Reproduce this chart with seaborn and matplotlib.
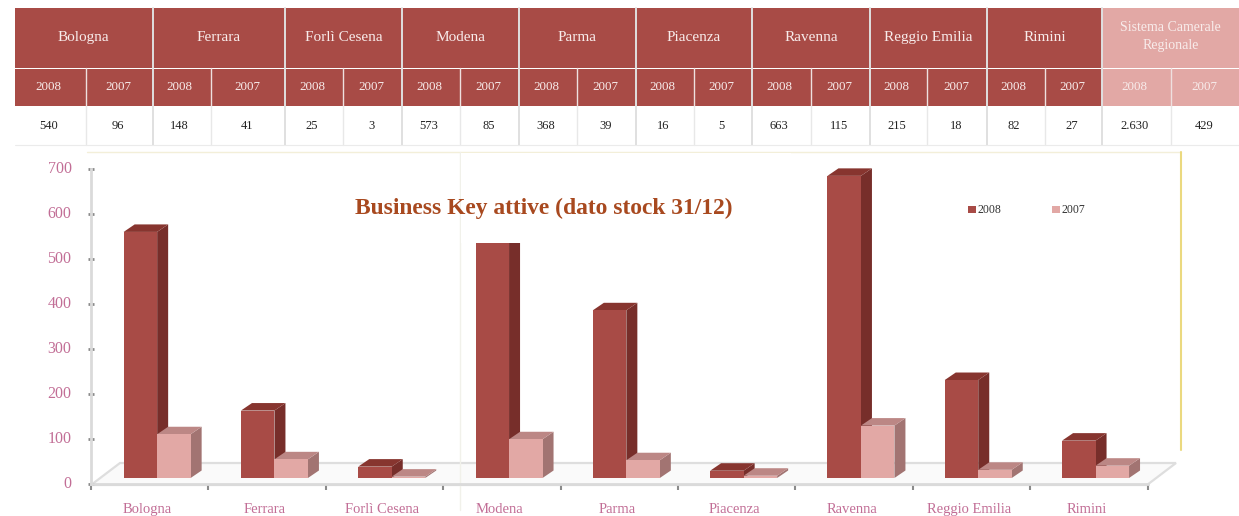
import matplotlib
matplotlib.use("Agg")
import matplotlib.pyplot as plt
from matplotlib.patches import Rectangle, Polygon
from matplotlib.transforms import ScaledTranslation
import pandas as pd
import seaborn as sns

provinces = ["Bologna", "Ferrara", "Forlì Cesena", "Modena", "Parma", "Piacenza",
             "Ravenna", "Reggio Emilia", "Rimini"]
chart_labels = ["Bologna", "Ferrara", "Forlì Cesena", "Modena", "Parma", "Piacenza",
                "Ravenna", "Reggio Emilia", "Rimini"]
values_2008 = [540, 148, 25, 573, 368, 16, 663, 215, 82]
values_2007 = [96, 41, 3, 85, 39, 5, 115, 18, 27]
total_label = "Sistema Camerale\nRegionale"
total_values = ["2.630", "429"]
years = ["2008", "2007"]
y_ticks = [0, 100, 200, 300, 400, 500, 600, 700]
title = "Business Key attive (dato stock 31/12)"

W, H = 1239, 516
DARK, LIGHT = "#A84B46", "#E2A8A5"
DARK_TOP, DARK_SIDE = "#87352F", "#772E2A"
LIGHT_TOP, LIGHT_SIDE = "#BC8785", "#A27472"
PINK = "#C26E96"
SERIF = "Liberation Serif"

sns.set_theme(style="white")
plt.rcParams["font.family"] = [SERIF, "DejaVu Serif"]

df = pd.DataFrame({
    "provincia": provinces * 2,
    "anno": ["2008"] * 9 + ["2007"] * 9,
    "valore": values_2008 + values_2007,
})

fig = plt.figure(figsize=(W / 100, H / 100), dpi=100, facecolor="white")


def px_axes(left, top, right, bottom, z):
    return fig.add_axes([left / W, 1 - bottom / H, (right - left) / W, (bottom - top) / H], zorder=z)


def nudge(label, px_x, px_y):
    label.set_transform(label.get_transform() + ScaledTranslation(px_x / 100, px_y / 100, fig.dpi_scale_trans))


# pixel layer: floor and frame lines
under = px_axes(0, 0, W, H, 0)
under.set_xlim(0, W); under.set_ylim(H, 0); under.axis("off")
under.add_patch(Polygon([(91, 485), (120, 463), (1176, 463), (1147, 485)], fc="#FAFAFA", ec="#DEDEDE", lw=1.6))
under.plot([87, 1181], [152, 152], color="#F3EFD9", lw=1)
under.plot([1181, 1181], [152, 450], color="#EBD97F", lw=1.5)
under.plot([460, 460], [152, 510], color="#F1F1EA", lw=1)

# value axis frame, with category bands
frame = px_axes(91, 169, 1147.5, 484, 1)
frame.patch.set_alpha(0)
frame.set_xlim(0, 9); frame.set_ylim(0, 700)
frame.set_yticks(y_ticks)
frame.set_xticks(range(10)); frame.set_xticklabels([])
frame.set_xticks([i + 0.5 for i in range(9)], chart_labels, minor=True)
frame.tick_params(axis="x", which="major", length=4, width=1.5, color="#8A8A8A", bottom=True, direction="out")
frame.tick_params(axis="x", which="minor", length=0, pad=14, labelsize=10.5, labelcolor=PINK)
frame.tick_params(axis="y", length=4, width=2, color="#8A8A8A", left=True, direction="inout", pad=12,
                  labelsize=11.5, labelcolor=PINK)
for lab in frame.get_yticklabels():
    lab.set_horizontalalignment("right")
    nudge(lab, 0, 2)
for lab in frame.get_xticklabels(minor=True):
    nudge(lab, -2.5, 0)
sns.despine(ax=frame, top=True, right=True)
for s in ("left", "bottom"):
    frame.spines[s].set_color("#DADADA")
    frame.spines[s].set_linewidth(2)

# bars
ax = px_axes(98.5, 159, 1154.2, 478, 2)
ax.patch.set_alpha(0)
sns.barplot(data=df, x="provincia", y="valore", hue="anno", hue_order=years, order=provinces,
            palette={"2008": DARK, "2007": LIGHT}, width=0.571, gap=0, saturation=1, ax=ax, legend=False)
ax.set_xlim(-0.5, 8.5); ax.set_ylim(0, 700)
ax.axis("off")
dx = 11 / (1055.7 / 9)
dy = 7.5 / (319 / 700)
for c, cont in enumerate(ax.containers):
    top_c, side_c = (DARK_TOP, DARK_SIDE) if c == 0 else (LIGHT_TOP, LIGHT_SIDE)
    for i, bar in enumerate(cont):
        x0, w, h = bar.get_x(), bar.get_width(), bar.get_height()
        x1 = x0 + w
        z = 3 + i * 4 + c * 2
        bar.set_zorder(z + 1)
        bar.set_linewidth(0)
        ax.add_patch(Polygon([(x1, 0), (x1 + dx, dy), (x1 + dx, h + dy), (x1, h)], fc=side_c, ec="none", zorder=z, clip_on=False))
        ax.add_patch(Polygon([(x0, h), (x0 + dx, h + dy), (x1 + dx, h + dy), (x1, h)], fc=top_c, ec="none", zorder=z, clip_on=False))

# top layer: white title band over the chart, title, legend, table
over = px_axes(0, 0, W, H, 5)
over.patch.set_alpha(0)
over.set_xlim(0, W); over.set_ylim(H, 0); over.axis("off")
over.add_patch(Rectangle((461, 153), 330, 90, fc="white", ec="none"))
over.text(544, 208, title, color="#A8491F", fontsize=16.9, fontweight="bold", ha="center", va="center")

for x, col, lab in [(968, DARK, years[0]), (1052, LIGHT, years[1])]:
    over.add_patch(Rectangle((x, 206), 8, 7, fc=col, ec="none"))
    over.text(x + 10, 210, lab, fontsize=8.5, color="#333333", va="center", ha="left")

# table
edges = [15, 86, 152.5, 211, 285, 343, 402, 460, 519, 577, 636, 693.5, 752, 810.5, 870, 927, 987, 1044.5, 1102, 1171, 1239]
y0, y1, y2, y3 = 8, 67.5, 106, 144.5
groups = provinces + [total_label]
cells_2008 = [str(v) for v in values_2008] + [total_values[0]]
cells_2007 = [str(v) for v in values_2007] + [total_values[1]]
for g, name in enumerate(groups):
    a, m, b = edges[2 * g], edges[2 * g + 1], edges[2 * g + 2]
    col = LIGHT if g == 9 else DARK
    txt = "#F8ECEB"
    over.add_patch(Rectangle((a, y0), b - a, y1 - y0, fc=col, ec="none"))
    over.add_patch(Rectangle((a, y1 + 1), b - a, y2 - y1 - 1, fc=col, ec="none"))
    over.text((a + b) / 2, (y0 + y1) / 2 - (1 if g == 9 else 0), name, color=txt,
              fontsize=10 if g == 9 else 11, ha="center", va="center", linespacing=1.5)
    over.text((a + m) / 2 - 2, (y1 + y2) / 2, years[0], color=txt, fontsize=9.4, ha="center", va="center")
    over.text((m + b) / 2 - 1, (y1 + y2) / 2, years[1], color=txt, fontsize=9.4, ha="center", va="center")
    over.text((a + m) / 2 - 2, (y2 + y3) / 2 + 1, cells_2008[g], color="#222222", fontsize=9, ha="center", va="center")
    over.text((m + b) / 2 - 1, (y2 + y3) / 2 + 1, cells_2007[g], color="#222222", fontsize=9, ha="center", va="center")
    over.plot([m, m], [y1, y2], color="#EFE0DF", lw=1)
    over.plot([m, m], [y2, y3], color="#E8E8E8", lw=1)
    if g:
        over.plot([a, a], [y0, y3], color="#E0E0E0", lw=1.4)
over.plot([15, W], [y3, y3], color="#EBEBEB", lw=0.8)

fig.savefig("out.png", dpi=100, facecolor="white")
